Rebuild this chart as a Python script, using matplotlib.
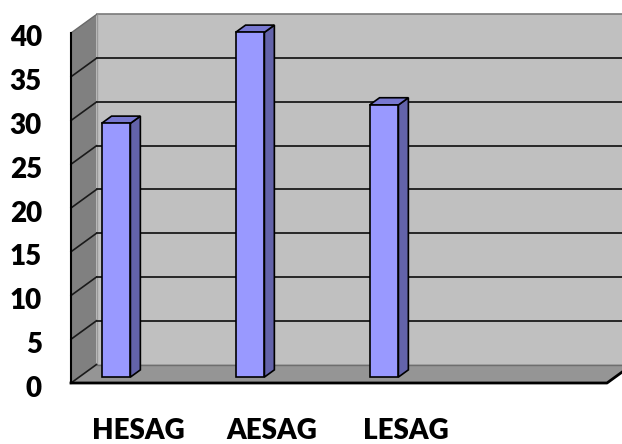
import matplotlib
matplotlib.use("Agg")
import matplotlib.pyplot as plt
from matplotlib.patches import Polygon
from matplotlib.transforms import ScaledTranslation

# ---- data ----
categories = ["HESAG", "AESAG", "LESAG"]
values = [29.0, 39.4, 31.1]
y_ticks = [0, 5, 10, 15, 20, 25, 30, 35, 40]
n_slots = 4

# ---- geometry / style ----
W, H = 622, 444
fig = plt.figure(figsize=(W / 100, H / 100), dpi=100)
ax = fig.add_axes([71 / W, (H - 383) / H, 536 / W, 350 / H])
x0, x1 = -0.5, n_slots - 0.5
ymax = 40
ax.set_xlim(x0, x1)
ax.set_ylim(0, ymax)
ax.patch.set_visible(False)
for s in ax.spines.values():
    s.set_visible(False)

DX = 25.5 / 134          # depth offset in x data units
DY = 18.5 / 8.75         # depth offset in y data units

wall_back = "#c0c0c0"
wall_side = "#808080"
floor_col = "#959595"

# back wall
ax.add_patch(Polygon([(x0 + DX, DY), (x1 + DX, DY), (x1 + DX, ymax + DY), (x0 + DX, ymax + DY)],
                     closed=True, facecolor=wall_back, edgecolor="none", zorder=1, clip_on=False))
ax.plot([x0 + DX, x1 + DX], [ymax + DY, ymax + DY], color="#7a7a7a", lw=1.2, zorder=2, clip_on=False)
ax.plot([x0 + DX, x0 + DX], [DY, ymax + DY], color="#9a9a9a", lw=1.0, zorder=2, clip_on=False)
# left side wall
ax.add_patch(Polygon([(x0, 0), (x0 + DX, DY), (x0 + DX, ymax + DY), (x0, ymax)],
                     closed=True, facecolor=wall_side, edgecolor="none", zorder=1, clip_on=False))
ax.plot([x0, x0 + DX], [ymax, ymax + DY], color="#6a6a6a", lw=1.0, zorder=2, clip_on=False)
# floor
ax.add_patch(Polygon([(x0, 0), (x1, 0), (x1 + DX, DY), (x0 + DX, DY)],
                     closed=True, facecolor=floor_col, edgecolor="none", zorder=1, clip_on=False))
ax.plot([x0 + DX, x1 + DX], [DY, DY], color="#6e6e6e", lw=1.0, zorder=2, clip_on=False)

# gridlines (back wall + side wall)
for v in y_ticks[1:-1]:
    ax.plot([x0 + DX, x1 + DX], [v + DY, v + DY], color="#1a1a1a", lw=1.3, zorder=3, clip_on=False)
for v in y_ticks[:-1]:
    ax.plot([x0, x0 + DX], [v, v + DY], color="#1a1a1a", lw=1.2, zorder=3, clip_on=False)
# front edges
ax.plot([x0, x0], [0, ymax], color="black", lw=1.5, zorder=3, clip_on=False)
ax.plot([x0, x1, x1 + DX], [0, 0, DY], color="black", lw=2.0, zorder=3, clip_on=False)

# bars
offset, width = -0.225, 0.215
f0, f1 = 0.32, 0.71
front_c, side_c, top_c = "#9999ff", "#6363aa", "#7878d0"
for i, v in enumerate(values):
    xc = i + offset
    xl, xr = xc - width / 2, xc + width / 2
    ax.add_patch(Polygon([(xr + f0 * DX, f0 * DY), (xr + f1 * DX, f1 * DY),
                          (xr + f1 * DX, v + f1 * DY), (xr + f0 * DX, v + f0 * DY)],
                         closed=True, facecolor=side_c, edgecolor="black", lw=1.2,
                         zorder=5, clip_on=False))
    ax.add_patch(Polygon([(xl + f0 * DX, v + f0 * DY), (xr + f0 * DX, v + f0 * DY),
                          (xr + f1 * DX, v + f1 * DY), (xl + f1 * DX, v + f1 * DY)],
                         closed=True, facecolor=top_c, edgecolor="black", lw=1.2,
                         zorder=5, clip_on=False))
ax.bar([i + offset + f0 * DX for i in range(len(values))], values, width=width,
       bottom=f0 * DY, color=front_c, edgecolor="black", linewidth=1.2, zorder=6, clip_on=False)

# tick labels
font = dict(family=["Lato", "DejaVu Sans"], fontweight="heavy", fontsize=20)
ax.set_yticks(y_ticks)
ax.set_yticklabels([str(t) for t in y_ticks], **font)
ax.set_xticks(range(len(categories)))
ax.set_xticklabels(categories, **font)
ax.tick_params(axis="y", length=0, pad=21)
ax.tick_params(axis="x", length=0, pad=25)
shift = ScaledTranslation(0, -3 / 100, fig.dpi_scale_trans)
for lab in ax.get_yticklabels():
    lab.set_transform(lab.get_transform() + shift)

fig.savefig("out.png", dpi=100)
